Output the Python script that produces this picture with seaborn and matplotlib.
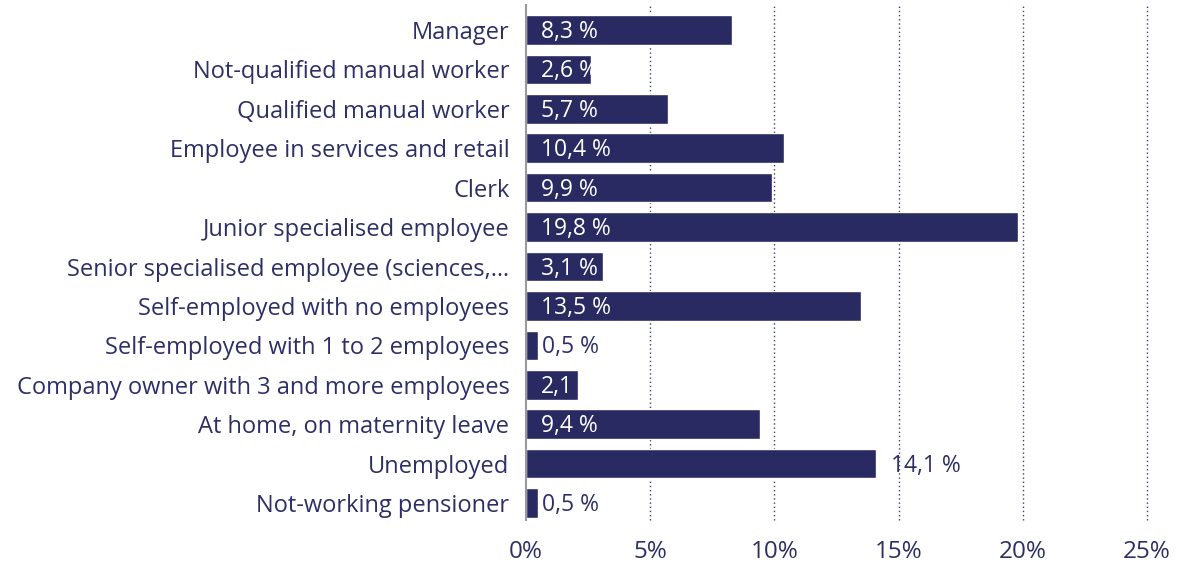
import matplotlib
matplotlib.use("Agg")
import matplotlib.pyplot as plt
import seaborn as sns
import pandas as pd

categories = [
    "Manager",
    "Not-qualified manual worker",
    "Qualified manual worker",
    "Employee in services and retail",
    "Clerk",
    "Junior specialised employee",
    "Senior specialised employee (sciences,\u2026",
    "Self-employed with no employees",
    "Self-employed with 1 to 2 employees",
    "Company owner with 3 and more employees",
    "At home, on maternity leave",
    "Unemployed",
    "Not-working pensioner",
]
values = [8.3, 2.6, 5.7, 10.4, 9.9, 19.8, 3.1, 13.5, 0.5, 2.1, 9.4, 14.1, 0.5]
value_labels = ["8,3 %", "2,6 %", "5,7 %", "10,4 %", "9,9 %", "19,8 %", "3,1 %",
                "13,5 %", "0,5 %", "2,1", "9,4 %", "14,1 %", "0,5 %"]
outside = [False, False, False, False, False, False, False,
           False, True, False, False, True, True]
x_ticks = [0, 5, 10, 15, 20, 25]
x_tick_labels = ["0%", "5%", "10%", "15%", "20%", "25%"]

navy = "#292a61"
text_col = "#2e2f66"

sns.set_theme(style="white")
plt.rcParams["font.family"] = ["Open Sans", "DejaVu Sans"]

df = pd.DataFrame({"cat": categories, "val": values})

fig = plt.figure(figsize=(11.8, 5.69), dpi=100)
ax = fig.add_axes([0.4458, 0.086, 0.972 - 0.4458, 0.991 - 0.086])

sns.barplot(data=df, x="val", y="cat", orient="h", color=navy, saturation=1,
            width=0.75, ax=ax)

ax.set_xlim(0, 25)
ax.set_ylim(12.43, -0.63)
ax.set_xticks(x_ticks)
ax.set_xticklabels(x_tick_labels)
ax.set_xlabel("")
ax.set_ylabel("")
ax.tick_params(axis="x", length=0, pad=14, labelsize=17.5, labelcolor=text_col)
ax.tick_params(axis="y", length=0, pad=12, labelsize=17, labelcolor=text_col)

# dotted vertical gridlines
for x in x_ticks[1:]:
    ax.axvline(x, color="#3b3d80", linestyle=(0, (1, 2)), linewidth=1, zorder=0,
               clip_on=False)

for s in ["top", "right", "bottom"]:
    ax.spines[s].set_visible(False)
ax.spines["left"].set_color("#9a9a9a")
ax.spines["left"].set_linewidth(1.5)
ax.spines["left"].set_zorder(3)

for i, (v, lab, out) in enumerate(zip(values, value_labels, outside)):
    if out:
        ax.text(v + 0.6 if v > 1 else 0.65, i + 0.05, lab, va="center", ha="left",
                color=text_col, fontsize=16.5)
    else:
        ax.text(0.6, i + 0.05, lab, va="center", ha="left", color="white",
                fontsize=16.5)

fig.savefig("out.png", dpi=100)
